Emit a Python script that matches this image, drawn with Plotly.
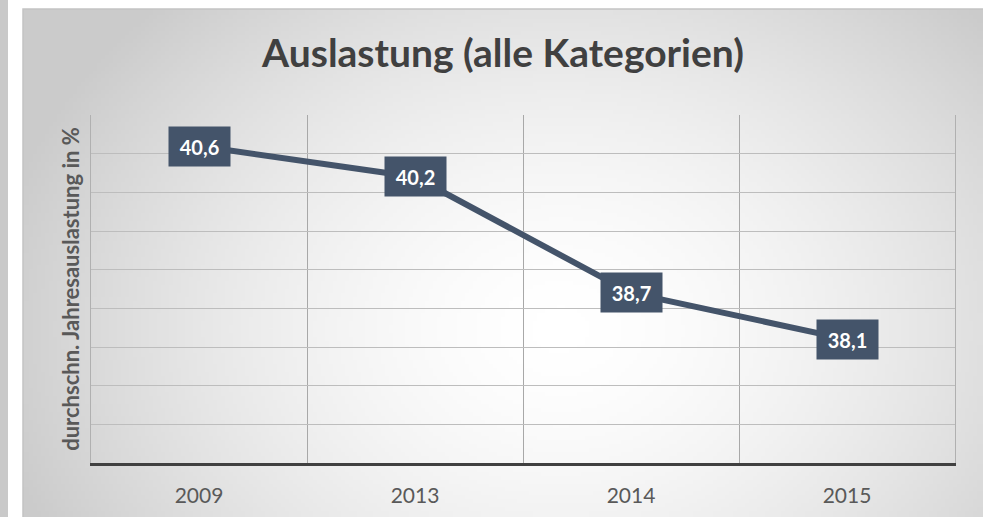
import base64
import struct
import zlib

import plotly.graph_objects as go

# ---- data ----
years = ["2009", "2013", "2014", "2015"]
auslastung = [40.6, 40.2, 38.7, 38.1]
title_text = "Auslastung (alle Kategorien)"
y_title = "durchschn. Jahresauslastung in %"

W, H = 983, 517
BOX_X0, BOX_Y0 = 23, 9
ML, MR, MT, MB = 91, 28, 115, 54
PW, PH = W - ML - MR, H - MT - MB
LINE_COLOR = "#44546A"
FONT = "Lato, 'Open Sans', sans-serif"


def gradient_png(w, h):
    """Radial light-gray gradient used as the chart-area background."""
    cx, cy = 0.56, 0.63
    rows = []
    for j in range(h):
        row = bytearray([0])
        fy = (j + 0.5) / h
        for i in range(w):
            fx = (i + 0.5) / w
            d = (((fx - cx) / 0.6) ** 2 + ((fy - cy) / 0.9) ** 2) ** 0.5
            v = int(round(255 - 52 * min(d, 1.0) ** 1.6))
            row += bytes((v, v, v))
        rows.append(bytes(row))
    raw = b"".join(rows)

    def chunk(tag, data):
        c = struct.pack(">I", len(data)) + tag + data
        return c + struct.pack(">I", zlib.crc32(tag + data) & 0xFFFFFFFF)

    png = b"\x89PNG\r\n\x1a\n"
    png += chunk(b"IHDR", struct.pack(">IIBBBBB", w, h, 8, 2, 0, 0, 0))
    png += chunk(b"IDAT", zlib.compress(raw, 9))
    png += chunk(b"IEND", b"")
    return "data:image/png;base64," + base64.b64encode(png).decode()


def px_x(p):
    return (p - ML) / PW


def px_y(p):
    return 1 - (p - MT) / PH


labels = [f"{v:.1f}".replace(".", ",") for v in auslastung]

fig = go.Figure()
fig.add_trace(
    go.Scatter(
        x=years,
        y=auslastung,
        mode="lines",
        line=dict(color=LINE_COLOR, width=6),
        hoverinfo="skip",
        showlegend=False,
    )
)

for i, (y, t) in enumerate(zip(auslastung, labels)):
    fig.add_annotation(
        x=i,
        y=y,
        text=f"<b>{t}</b>",
        showarrow=False,
        font=dict(family=FONT, size=20, color="white"),
        bgcolor=LINE_COLOR,
        borderpad=8,
        width=45,
        height=23,
        xanchor="center",
        yanchor="middle",
    )

fig.add_layout_image(
    dict(
        source=gradient_png(240, 128),
        xref="paper",
        yref="paper",
        x=px_x(BOX_X0),
        y=px_y(BOX_Y0),
        sizex=(W - BOX_X0) / PW,
        sizey=(H - BOX_Y0) / PH,
        xanchor="left",
        yanchor="top",
        sizing="stretch",
        layer="below",
    )
)

# left strip of the page
fig.add_shape(
    type="rect",
    xref="paper",
    yref="paper",
    x0=px_x(0),
    x1=px_x(8),
    y0=px_y(H),
    y1=px_y(0),
    fillcolor="#C9C9C9",
    line=dict(width=0),
    layer="below",
)
# border of the chart box
fig.add_shape(
    type="rect",
    xref="paper",
    yref="paper",
    x0=px_x(BOX_X0),
    x1=px_x(W + 5),
    y0=px_y(H + 5),
    y1=px_y(BOX_Y0),
    line=dict(color="#C4C4C4", width=1.5),
    layer="below",
)

fig.update_layout(
    width=W,
    height=H,
    margin=dict(l=ML, r=MR, t=MT, b=MB, autoexpand=False),
    paper_bgcolor="white",
    plot_bgcolor="rgba(0,0,0,0)",
    title=dict(
        text=f"<b>{title_text}</b>",
        font=dict(family=FONT, size=39, color="#404040"),
        x=503 / W,
        xanchor="center",
        y=1 - 53 / H,
        yanchor="middle",
    ),
    xaxis=dict(
        type="category",
        range=[-0.5, len(years) - 0.5],
        tickson="boundaries",
        showgrid=True,
        gridcolor="#A8A8A8",
        gridwidth=1,
        ticks="",
        tickangle=0,
        ticklabelstandoff=12,
        tickfont=dict(family=FONT, size=21, color="#595959"),
        showline=True,
        linecolor="#404040",
        linewidth=3,
        zeroline=False,
        automargin=False,
        fixedrange=True,
    ),
    yaxis=dict(
        range=[36.5, 41.002],
        dtick=0.5,
        tick0=36.5,
        showticklabels=False,
        showgrid=True,
        gridcolor="#BDBDBD",
        gridwidth=1,
        zeroline=False,
        showline=True,
        mirror=True,
        linecolor="#B0B0B0",
        linewidth=1,
        automargin=False,
        title=dict(
            text=f"<b>{y_title}</b>",
            font=dict(family=FONT, size=22, color="#595959"),
            standoff=4,
        ),
        fixedrange=True,
    ),
)

fig.write_html(
    "out.html",
    config={"displayModeBar": False},
    post_script="document.body.style.margin='0';",
)
